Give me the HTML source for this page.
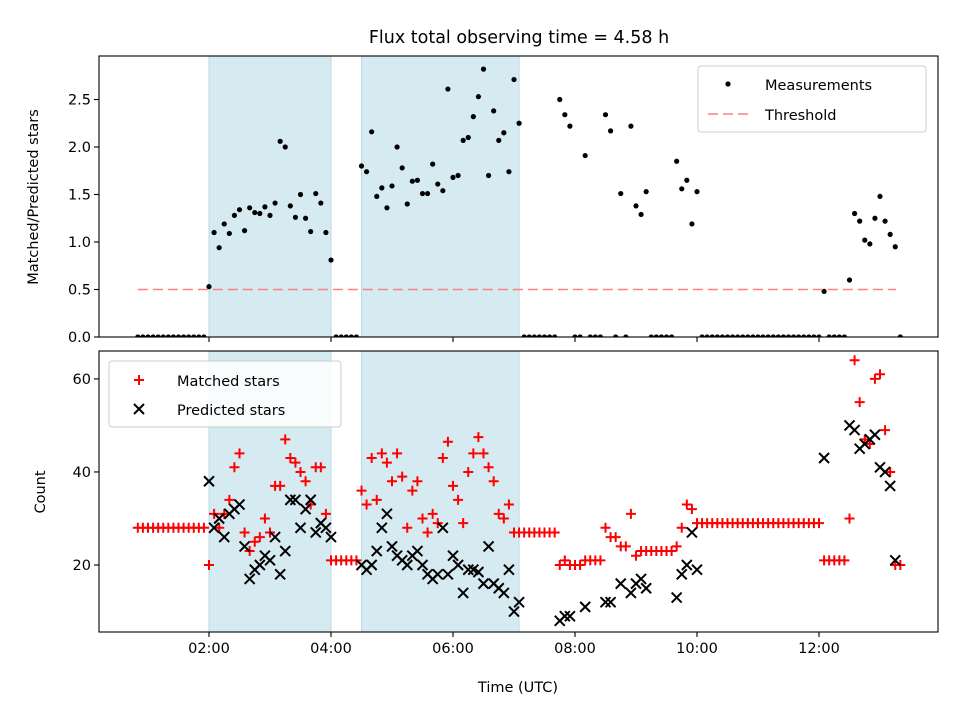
<!DOCTYPE html>
<html><head><meta charset="utf-8"><style>
body{margin:0;background:#fff}
svg text{font-family:"DejaVu Sans","Liberation Sans",sans-serif;fill:#000}
</style></head><body>
<svg id="c" width="960" height="720" viewBox="0 0 960 720"></svg>
<script>
const startHour = 0 + 50/60, stepHour = 5/60;
const ratio = [0,0,0,0,0,0,0,0,0,0,0,0,0,0,
0.53,1.10,0.94,1.19,1.09,1.28,1.34,1.12,1.36,1.31,1.30,1.37,1.28,1.41,2.06,2.00,1.38,1.26,1.50,1.25,1.11,1.51,1.41,1.10,0.81,
0,0,0,0,0,
1.80,1.74,2.16,1.48,1.57,1.36,1.59,2.00,1.78,1.40,1.64,1.65,1.51,1.51,1.82,1.61,1.54,2.61,1.68,1.70,2.07,2.10,2.32,2.53,2.82,1.70,2.38,2.07,2.15,1.74,2.71,2.25,
0,0,0,0,0,0,0,
2.50,2.34,2.22,0,0,1.91,0,0,0,2.34,2.17,0,1.51,0,2.22,1.38,1.29,1.53,0,0,0,0,0,1.85,1.56,1.65,1.19,1.53,
0,0,0,0,0,0,0,0,0,0,0,0,0,0,0,0,0,0,0,0,0,0,0,0,
0.48,0,0,0,0,0.60,1.30,1.22,1.02,0.98,1.25,1.48,1.22,1.08,0.95,0];
const matched = [28,28,28,28,28,28,28,28,28,28,28,28,28,28,
20,31,28,31,34,41,44,27,23,25,26,30,27,37,37,47,43,42,40,38,33,41,41,31,21,
21,21,21,21,21,
36,33,43,34,44,42,38,44,39,28,36,38,30,27,31,29,43,46.5,37,34,29,40,44,47.5,44,41,38,31,30,33,27,27,
27,27,27,27,27,27,27,
20,21,20,20,20,21,21,21,21,28,26,26,24,24,31,22,23,23,23,23,23,23,23,24,28,33,32,29,
29,29,29,29,29,29,29,29,29,29,29,29,29,29,29,29,29,29,29,29,29,29,29,29,
21,21,21,21,21,30,64,55,47,46,60,61,49,40,20,20];
const predicted = [0,0,0,0,0,0,0,0,0,0,0,0,0,0,
38,28,30,26,31,32,33,24,17,19,20,22,21,26,18,23,34,34,28,32,34,27,29,28,26,
0,0,0,0,0,
20,19,20,23,28,31,24,22,21,20,22,23,20,18,17,18,28,18,22,20,14,19,19,18.5,16,24,16,15,14,19,10,12,
0,0,0,0,0,0,0,
8,9,9,0,0,11,0,0,0,12,12,0,16,0,14,16,17,15,0,0,0,0,0,13,18,20,27,19,
0,0,0,0,0,0,0,0,0,0,0,0,0,0,0,0,0,0,0,0,0,0,0,0,
43,0,0,0,0,50,49,45,46,47,48,41,40,37,21,0];
const threshold = 0.5;
const spans = [[2.0,4.0],[4.5,7.0833]];
const xTicks = [2,4,6,8,10,12];
const xTickLabels = ["02:00","04:00","06:00","08:00","10:00","12:00"];
const topTicks = [0,0.5,1.0,1.5,2.0,2.5];
const topTickLabels = ["0.0","0.5","1.0","1.5","2.0","2.5"];
const botTicks = [20,40,60];
const botTickLabels = ["20","40","60"];

const NS="http://www.w3.org/2000/svg", svg=document.getElementById('c');
function mk(tag, attrs, parent){const e=document.createElementNS(NS,tag);for(const k in attrs)e.setAttribute(k,attrs[k]);(parent||svg).appendChild(e);return e;}
const L=99,R=938, T1=56,B1=337, T2=351,B2=632;
const xs = h => 209 + (h-2)*61;
const y1 = v => B1 - (v-0)*(B1-T1)/2.958;
const y2 = v => B2 - (v-5.6)*(B2-T2)/(66.0-5.6);
const times = ratio.map((_,i)=>startHour+i*stepHour);

let e=mk('text',{x:519,y:43,'font-size':'17.5','text-anchor':'middle'});

e.textContent='Flux total observing time = 4.58 h';

function clip(id,top,bot){const cp=mk('clipPath',{id:id});mk('rect',{x:L,y:top,width:R-L,height:bot-top},cp);}
clip('c1',T1,B1);clip('c2',T2,B2);

// spans
[[T1,B1,'top'],[T2,B2,'bottom']].forEach(([t,b,n])=>{
  spans.forEach((s,k)=>{
    const r=mk('rect',{x:xs(s[0]),y:t,width:xs(s[1])-xs(s[0]),height:b-t,fill:'#d6eaf1',stroke:'#b7dbe6','stroke-width':1});
    
    
  });
});

// top panel
const g1=mk('g',{'clip-path':'url(#c1)'});

const tl=mk('line',{x1:xs(times[0]),x2:xs(times[times.length-1]-0.07),y1:y1(threshold),y2:y1(threshold),stroke:'#ff8080','stroke-width':1.6,'stroke-dasharray':'10 5'});

ratio.forEach((v,i)=>{ if(v===null)return;
  const d=mk('circle',{cx:xs(times[i]),cy:y1(v),r:2.6,fill:'#000'},g1);
  
});

// bottom panel
const g2=mk('g',{'clip-path':'url(#c2)'});

matched.forEach((v,i)=>{const x=xs(times[i]),y=y2(v);
  const p=mk('path',{d:`M${x-5},${y}H${x+5}M${x},${y-5}V${y+5}`,stroke:'#ff0000','stroke-width':2,fill:'none'},g2);
  
});
predicted.forEach((v,i)=>{const x=xs(times[i]),y=y2(v);
  const p=mk('path',{d:`M${x-5},${y-5}L${x+5},${y+5}M${x-5},${y+5}L${x+5},${y-5}`,stroke:'#000','stroke-width':2,fill:'none'},g2);
  
});

// frames and ticks
[[T1,B1,'top'],[T2,B2,'bottom']].forEach(([t,b,n])=>{
  const f=mk('rect',{x:L,y:t,width:R-L,height:b-t,fill:'none',stroke:'#000','stroke-width':1.1});
  
  xTicks.forEach(h=>{mk('line',{x1:xs(h),x2:xs(h),y1:b,y2:b+5,stroke:'#000','stroke-width':1.1});});
});
xTicks.forEach((h,k)=>{const tx=mk('text',{x:xs(h),y:B2+21,'font-size':'14.5','text-anchor':'middle'});
  tx.textContent=xTickLabels[k];});
topTicks.forEach((v,k)=>{mk('line',{x1:L-5,x2:L,y1:y1(v),y2:y1(v),stroke:'#000','stroke-width':1.1});
  const tx=mk('text',{x:L-8,y:y1(v)+5,'font-size':'14.5','text-anchor':'end'});
  tx.textContent=topTickLabels[k];});
botTicks.forEach((v,k)=>{mk('line',{x1:L-5,x2:L,y1:y2(v),y2:y2(v),stroke:'#000','stroke-width':1.1});
  const tx=mk('text',{x:L-8,y:y2(v)+5,'font-size':'14.5','text-anchor':'end'});
  tx.textContent=botTickLabels[k];});

e=mk('text',{x:518,y:692,'font-size':'14.5','text-anchor':'middle'});
e.textContent='Time (UTC)';
e=mk('text',{x:0,y:0,'font-size':'14.5','text-anchor':'middle',transform:'translate(38,197) rotate(-90)'});
e.textContent='Matched/Predicted stars';
e=mk('text',{x:0,y:0,'font-size':'14.5','text-anchor':'middle',transform:'translate(45,492) rotate(-90)'});
e.textContent='Count';

// legends
let lg=mk('g',{});
mk('rect',{x:698,y:66,width:228,height:66,rx:3,fill:'#fff','fill-opacity':0.85,stroke:'#ccc'},lg);
mk('circle',{cx:728,cy:84,r:2.6,fill:'#000'},lg);
e=mk('text',{x:765,y:90,'font-size':'14.5'},lg);e.textContent='Measurements';
mk('line',{x1:708,x2:748,y1:114,y2:114,stroke:'#ff8080','stroke-width':1.6,'stroke-dasharray':'10 5'},lg);
e=mk('text',{x:765,y:120,'font-size':'14.5'},lg);e.textContent='Threshold';

lg=mk('g',{});
mk('rect',{x:109,y:361,width:232,height:66,rx:3,fill:'#fff','fill-opacity':0.85,stroke:'#ccc'},lg);
mk('path',{d:'M134,380H144M139,375V385',stroke:'#ff0000','stroke-width':2},lg);
e=mk('text',{x:177,y:386,'font-size':'14.5'},lg);e.textContent='Matched stars';
mk('path',{d:'M134,404L144,414M134,414L144,404',stroke:'#000','stroke-width':2},lg);
e=mk('text',{x:177,y:415,'font-size':'14.5'},lg);e.textContent='Predicted stars';
</script>
</body></html>
